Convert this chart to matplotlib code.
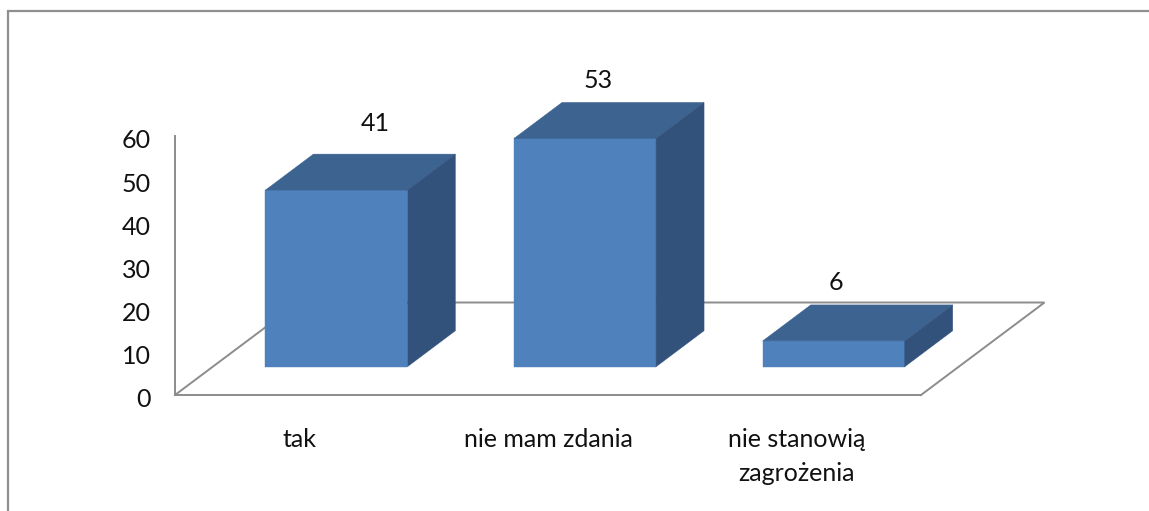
import matplotlib
matplotlib.use("Agg")
import matplotlib.pyplot as plt
from matplotlib.lines import Line2D
from matplotlib.patches import Polygon
from matplotlib.transforms import ScaledTranslation

categories = ["tak", "nie mam zdania", "nie stanowią\nzagrożenia"]
values = [41, 53, 6]
y_ticks = [0, 10, 20, 30, 40, 50, 60]

W, H = 1149, 511
plt.rcParams["font.family"] = ["Lato", "Open Sans", "DejaVu Sans"]
FS = 18
INK = "#111111"

fig = plt.figure(figsize=(W / 100, H / 100), dpi=100, facecolor="white")
# plot region in pixels: x 175..921, y 136.5..395
L, R, T, B = 175, 921, 136.5, 395
ax = fig.add_axes([L / W, 1 - B / H, (R - L) / W, (B - T) / H])
ax.set_xlim(-0.5, 2.5)
ax.set_ylim(0, 60)
ax.patch.set_alpha(0)

px_x = 3 / (R - L)       # data units per pixel in x
px_y = 60 / (B - T)      # data units per pixel in y

GREY = "#8c8c8c"
for s in ("top", "right"):
    ax.spines[s].set_visible(False)
for s in ("left", "bottom"):
    ax.spines[s].set_color(GREY)
    ax.spines[s].set_linewidth(1.4)

ax.set_xticks(range(len(categories)))
ax.set_xticklabels(categories, fontsize=FS, color=INK, linespacing=1.55)
ax.set_yticks(y_ticks)
ax.set_yticklabels([str(t) for t in y_ticks], fontsize=FS, color=INK)
ax.tick_params(axis="both", length=0)
ax.tick_params(axis="y", pad=17.5)
ax.tick_params(axis="x", pad=24)
shift = ScaledTranslation(0, -2.5 / 100, fig.dpi_scale_trans)
for lab in ax.get_yticklabels():
    lab.set_transform(lab.get_transform() + shift)

# floor parallelogram (side and back edges)
floor_dx, floor_dy = 123.5 * px_x, 92.5 * px_y
x0, x1 = -0.5, 2.5
ax.plot([x0, x0 + floor_dx, x1 + floor_dx, x1], [0, floor_dy, floor_dy, 0],
        color=GREY, lw=1.4, clip_on=False, zorder=1, solid_joinstyle="miter")

# 3-D columns
bar_w = 142 * px_x
bar_dx, bar_dy = 48 * px_x, 36 * px_y
off_x = (floor_dx - bar_dx) / 2 - 0.7 * px_x
off_y = (floor_dy - bar_dy) / 2
FRONT, TOP, SIDE = "#4F81BD", "#3D6391", "#32527C"
label_dx = [39, 13, 2]
label_dy = [31, 22, 22]

for i, v in enumerate(values):
    xa = i - bar_w / 2 + off_x
    xb = xa + bar_w
    ya, yb = off_y, off_y + v
    kw = dict(clip_on=False, zorder=3, lw=0.3)
    ax.add_patch(Polygon([(xa, ya), (xb, ya), (xb, yb), (xa, yb)],
                         facecolor=FRONT, edgecolor=FRONT, **kw))
    ax.add_patch(Polygon([(xa, yb), (xb, yb), (xb + bar_dx, yb + bar_dy), (xa + bar_dx, yb + bar_dy)],
                         facecolor=TOP, edgecolor=TOP, **kw))
    ax.add_patch(Polygon([(xb, ya), (xb + bar_dx, ya + bar_dy), (xb + bar_dx, yb + bar_dy), (xb, yb)],
                         facecolor=SIDE, edgecolor=SIDE, **kw))
    ax.text((xa + xb) / 2 + label_dx[i] * px_x, yb + bar_dy + label_dy[i] * px_y, str(v),
            ha="center", va="center", fontsize=FS, color=INK, clip_on=False, zorder=4)

# outer frame: only the left and top edges are in view
fig.add_artist(Line2D([8 / W, 8 / W, 1], [0, 1 - 11 / H, 1 - 11 / H],
                      color="#8f8f8f", lw=1.6, solid_joinstyle="miter"))

fig.savefig("out.png", dpi=100, facecolor="white")
